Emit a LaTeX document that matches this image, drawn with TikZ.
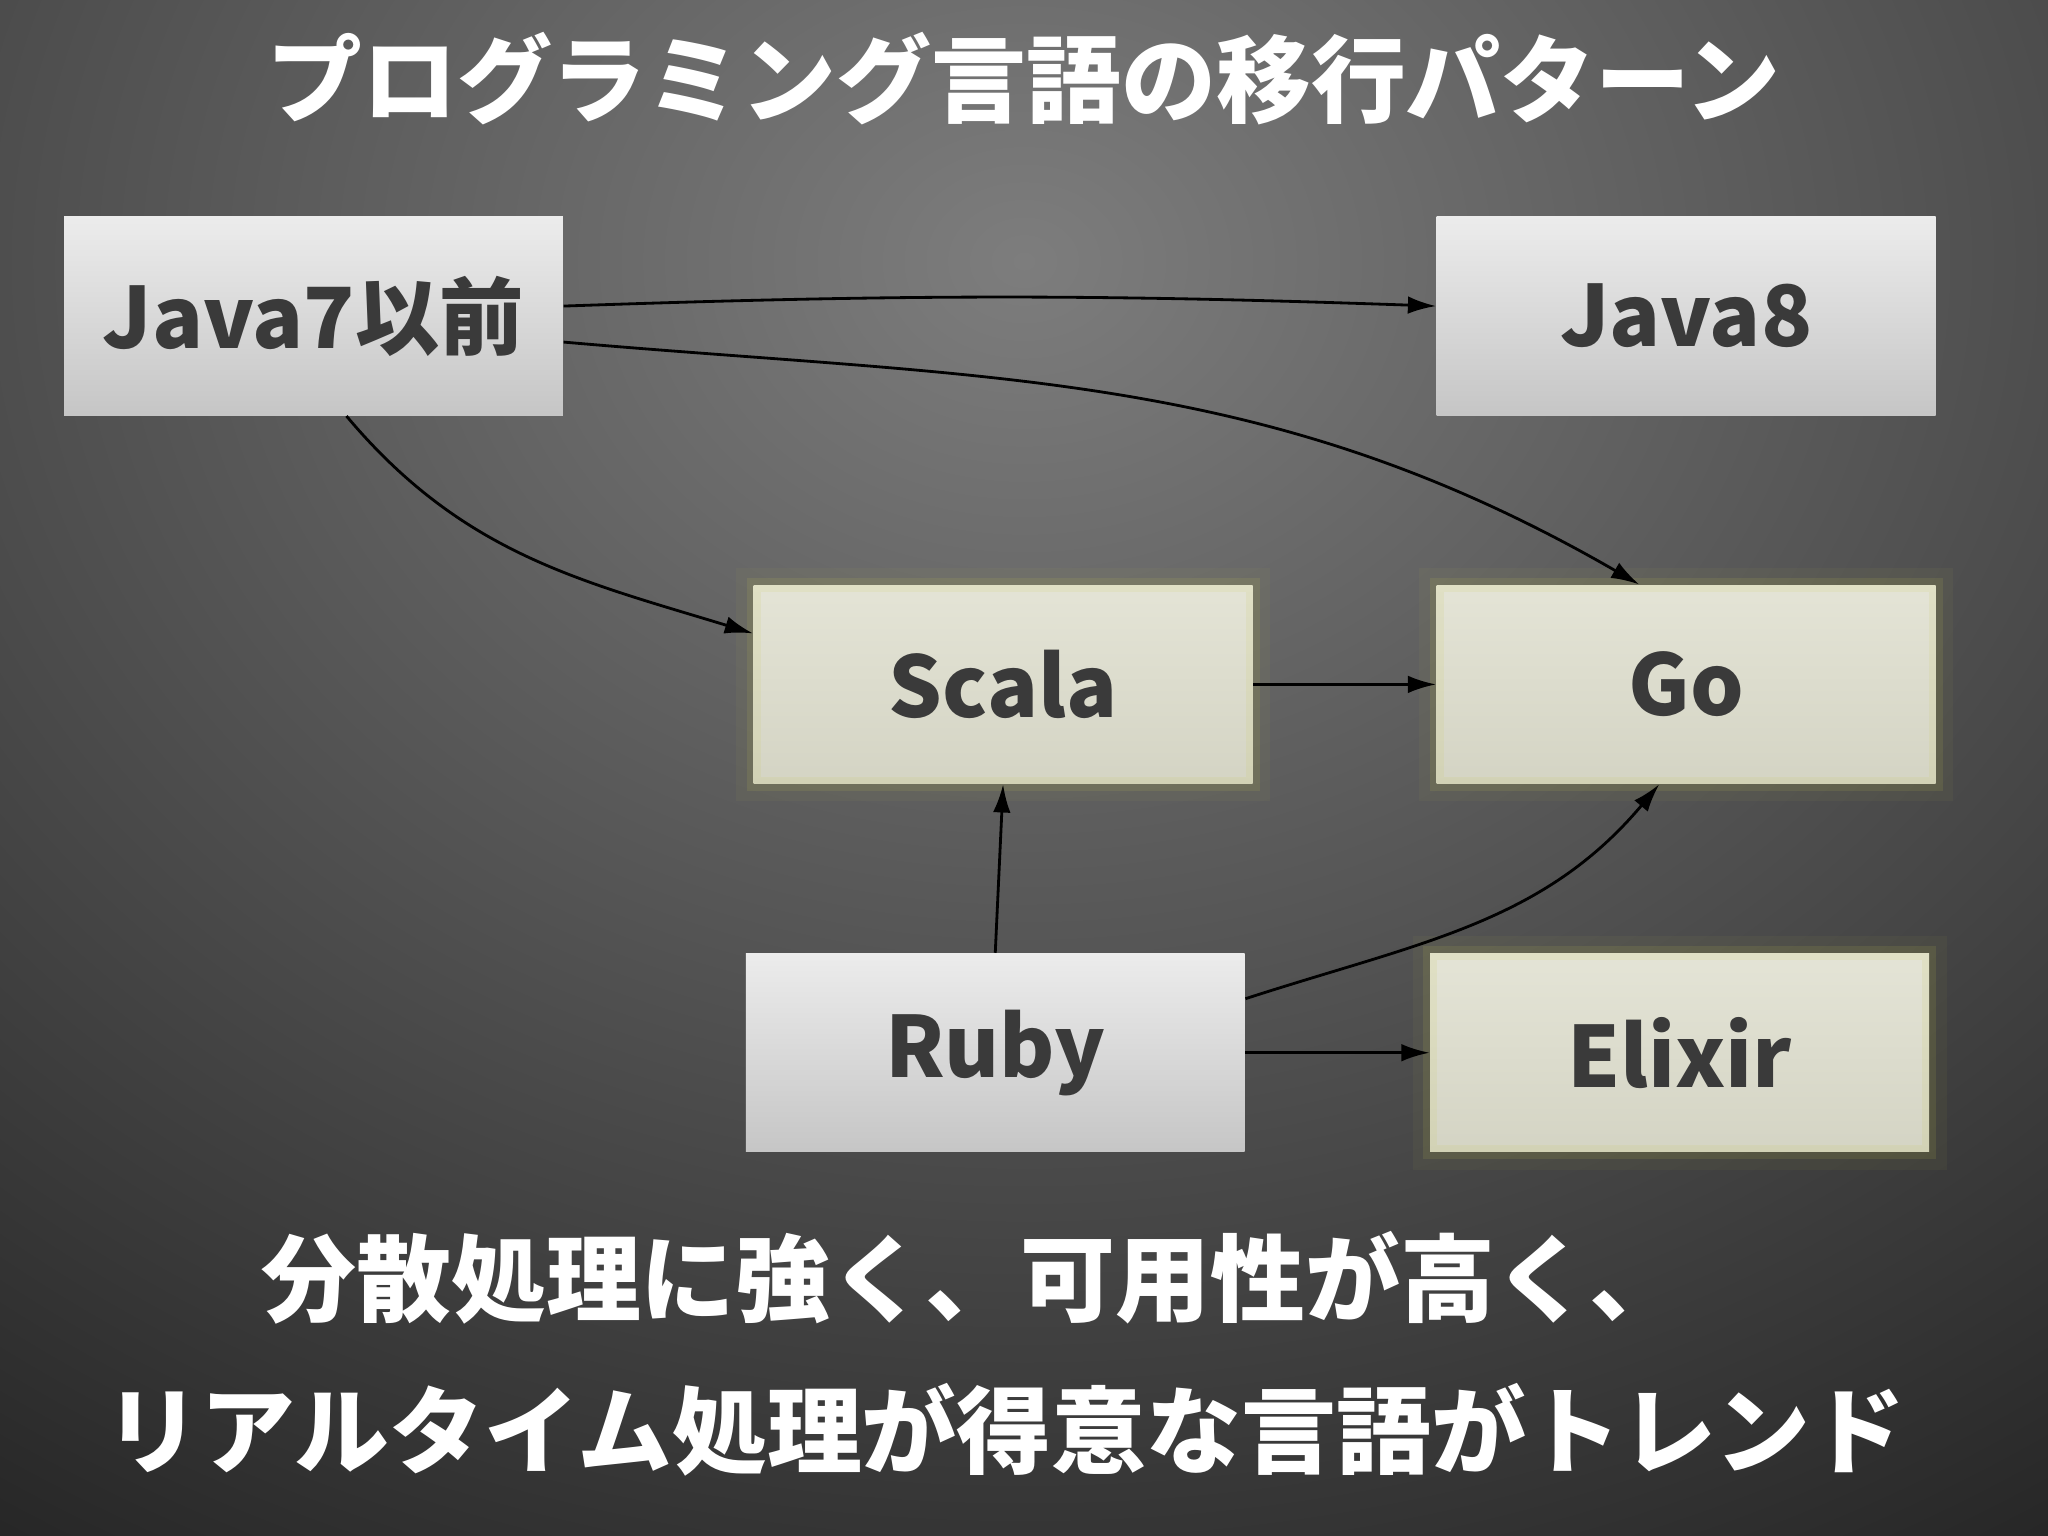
\documentclass[tikz,border=0pt]{standalone}
\usepackage{fontspec}
\setmainfont{Noto Sans CJK JP}
\usetikzlibrary{arrows.meta}
\definecolor{boxtext}{HTML}{3A3A3A}
\definecolor{glowcol}{HTML}{C8C850}
\begin{document}
\begin{tikzpicture}[x=0.01306cm, y=-0.01306cm,
  every node/.style = {font=\bfseries},
  lang/.style = {minimum width=382*0.01306cm, minimum height=152*0.01306cm,
    inner sep=0pt, text=boxtext, font=\fontsize{24}{28}\selectfont\bfseries,
    top color=gray!15, bottom color=gray!45},
  newlang/.style = {lang, top color={rgb,255:red,228;green,228;blue,214},
    bottom color={rgb,255:red,212;green,212;blue,196},
    preaction={draw=glowcol, line width=10pt, opacity=0.05},
    postaction={draw=glowcol, line width=4pt, opacity=0.12}},
  caption/.style = {text=white, font=\fontsize{27}{30}\selectfont\bfseries},
  arr/.style = {-{Latex[length=8pt,width=5pt]}, black, line width=0.8pt}]
  \useasboundingbox (0,0) rectangle (1568,1176);
  % background
  \shade[inner color={rgb,255:red,125;green,125;blue,125},
    outer color={rgb,255:red,36;green,36;blue,36}] (-700,-1000) rectangle (2268,1400);
  % title and captions
  \node[caption] (title) at (784,60) {プログラミング言語の移行パターン};
  \node[caption] (cap1) at (745,978) {分散処理に強く、可用性が高く、};
  \node[caption] (cap2) at (770,1095) {リアルタイム処理が得意な言語がトレンド};
  % languages
  \node[lang] (java7) at (240,242) {Java7以前};
  \node[lang] (java8) at (1291,242) {Java8};
  \node[newlang] (scala) at (768,524) {Scala};
  \node[newlang] (go) at (1291,524) {Go};
  \node[lang] (ruby) at (762,806) {Ruby};
  \node[newlang] (elixir) at (1286,806) {Elixir};
  % migrations
  \draw[arr] ([yshift=0.1cm]java7.east) to[bend left=2] ([yshift=0.1cm]java8.west);
  \draw[arr] ([yshift=-0.26cm]java7.east) to[out=-5, in=150] ([xshift=-0.47cm]go.north);
  \draw[arr] ([xshift=0.33cm]java7.south) to[out=-50, in=163] ([yshift=0.51cm]scala.west);
  \draw[arr] (scala.east) -- (go.west);
  \draw[arr] (ruby.north) -- (scala.south);
  \draw[arr] ([yshift=0.54cm]ruby.east) to[out=18, in=-130] ([xshift=-0.27cm]go.south);
  \draw[arr] (ruby.east) -- (elixir.west);
\end{tikzpicture}
\end{document}
